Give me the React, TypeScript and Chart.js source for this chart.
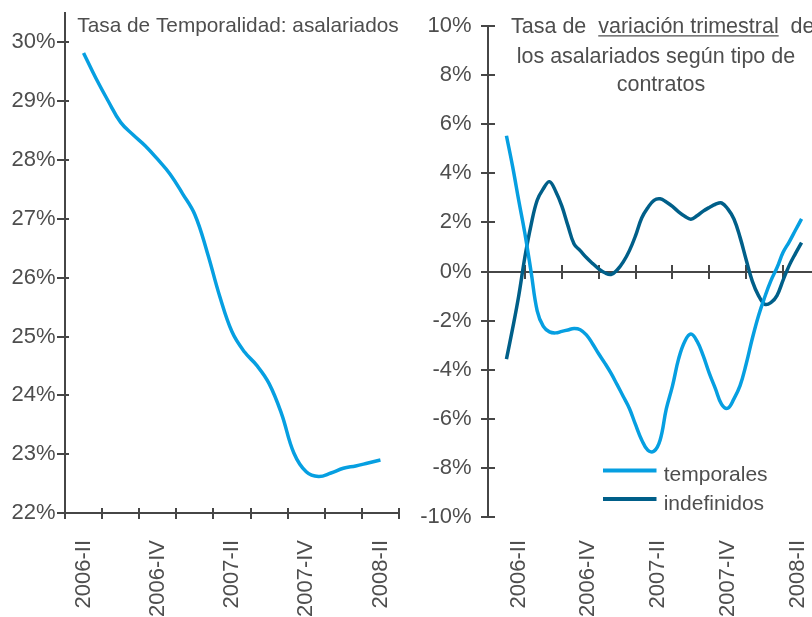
import { useEffect, useRef } from 'react';
import { Chart, registerables } from 'chart.js';

Chart.register(...registerables);

const FONT = "'Liberation Sans', Arial, Helvetica, sans-serif";
Chart.defaults.font.family = FONT;

const AXIS = '#464646';
const TEXT = '#4e4e4e';
const LIGHT = '#069fe1';
const DARK = '#005f89';

// ---------- data ----------
const quarters = ['2006-II', '2006-III', '2006-IV', '2007-I', '2007-II', '2007-III', '2007-IV', '2008-I', '2008-II'];
const labelledQuarters = [0, 2, 4, 6, 8];

const leftTitle = 'Tasa de Temporalidad: asalariados';
const rightTitleLines = ['Tasa de  variación trimestral  de', 'los asalariados según tipo de', 'contratos'];
const rightTitleUnderlined = 'variación trimestral';

// Tasa de temporalidad (%), monthly steps from 2006-II to 2008-II
const temporalidad = [
  29.82, 29.39, 29.0, 28.64, 28.43, 28.24, 28.01, 27.76, 27.43, 27.07, 26.43, 25.69, 25.08,
  24.74, 24.51, 24.2, 23.69, 23.02, 22.7, 22.62, 22.68, 22.76, 22.8, 22.85, 22.9,
];

// Variación trimestral (%), half-month steps from 2006-II to 2008-II
const temporales = [
  5.53, 4.28, 2.89, 1.55, 0.0, -1.6, -2.24, -2.46, -2.5, -2.44, -2.38, -2.32, -2.37, -2.58, -2.94,
  -3.35, -3.73, -4.14, -4.61, -5.09, -5.58, -6.24, -6.86, -7.28, -7.32, -6.86, -5.6, -4.67, -3.56,
  -2.85, -2.55, -2.84, -3.43, -4.15, -4.78, -5.41, -5.57, -5.19, -4.65, -3.76, -2.72, -1.8, -1.05,
  -0.38, 0.15, 0.78, 1.21, 1.68, 2.14,
];
const indefinidos = [
  -3.57, -2.33, -0.99, 0.59, 1.89, 2.9, 3.37, 3.66, 3.27, 2.67, 1.87, 1.12, 0.85, 0.57, 0.33, 0.11,
  -0.05, -0.12, 0.06, 0.39, 0.85, 1.46, 2.18, 2.6, 2.9, 2.96, 2.83, 2.65, 2.43, 2.25, 2.13, 2.27,
  2.46, 2.61, 2.74, 2.79, 2.55, 2.14, 1.39, 0.47, -0.4, -0.98, -1.33, -1.27, -0.98, -0.35, 0.25,
  0.73, 1.18,
];

// ---------- helpers ----------
function seg(ctx: CanvasRenderingContext2D, x1: number, y1: number, x2: number, y2: number) {
  ctx.beginPath();
  ctx.moveTo(x1, y1);
  ctx.lineTo(x2, y2);
  ctx.stroke();
}

function zeroPad(s: any) {
  s.paddingLeft = 0;
  s.paddingRight = 0;
  s.paddingTop = 0;
  s.paddingBottom = 0;
}

const leftDecor = {
  id: 'leftDecor',
  beforeDatasetsDraw(chart: any) {
    const { ctx, chartArea: a, scales } = chart;
    ctx.save();
    ctx.strokeStyle = AXIS;
    ctx.lineWidth = 2;
    scales.y.ticks.forEach((t: any) => {
      const y = Math.round(scales.y.getPixelForValue(t.value));
      seg(ctx, a.left - 8, y, a.left + 4, y);
    });
    for (let b = 0; b <= quarters.length; b++) {
      const x = Math.round(scales.x.getPixelForValue(b - 0.5));
      seg(ctx, x, a.bottom - 5, x, a.bottom + 6);
    }
    ctx.fillStyle = TEXT;
    ctx.font = `20.8px ${FONT}`;
    ctx.textAlign = 'left';
    ctx.textBaseline = 'alphabetic';
    ctx.fillText(leftTitle, a.left + 12.3, a.top + 18.7);
    ctx.restore();
  },
};

const rightDecor = {
  id: 'rightDecor',
  beforeDatasetsDraw(chart: any) {
    const { ctx, chartArea: a, scales } = chart;
    const y0 = Math.round(scales.y.getPixelForValue(0));
    ctx.save();
    ctx.strokeStyle = AXIS;
    ctx.lineWidth = 2;
    scales.y.ticks.forEach((t: any) => {
      const y = Math.round(scales.y.getPixelForValue(t.value));
      seg(ctx, a.left - 7, y, a.left + 7, y);
    });
    for (let b = 1; b <= quarters.length; b++) {
      const x = Math.round(scales.x.getPixelForValue(b - 0.5));
      seg(ctx, x, y0 - 7, x, y0 + 7);
    }
    // title
    ctx.fillStyle = TEXT;
    ctx.font = `21.5px ${FONT}`;
    ctx.textAlign = 'left';
    ctx.textBaseline = 'alphabetic';
    const tx = [a.left + 23, a.left + 28.7, a.left + 128.7];
    const ty = [a.top + 7.3, a.top + 36.7, a.top + 65];
    rightTitleLines.forEach((l, i) => ctx.fillText(l, tx[i], ty[i]));
    const first = rightTitleLines[0];
    const idx = first.indexOf(rightTitleUnderlined);
    const ux1 = tx[0] + ctx.measureText(first.slice(0, idx)).width;
    const ux2 = ux1 + ctx.measureText(rightTitleUnderlined).width;
    ctx.strokeStyle = TEXT;
    ctx.lineWidth = 1.3;
    seg(ctx, ux1, ty[0] + 2.5, ux2, ty[0] + 2.5);
    // legend
    const ly = scales.y.getPixelForValue(-8) + 2.5;
    ctx.font = `21px ${FONT}`;
    chart.data.datasets.forEach((d: any, i: number) => {
      const y = ly + i * 28.6;
      ctx.strokeStyle = d.borderColor;
      ctx.lineWidth = 4;
      seg(ctx, a.left + 115, y, a.left + 168.5, y);
      ctx.fillStyle = TEXT;
      ctx.fillText(d.label, a.left + 175.7, y + 11);
    });
    ctx.restore();
  },
};

function leftConfig(): any {
  return {
    type: 'line',
    data: {
      datasets: [
        {
          label: leftTitle,
          data: temporalidad.map((v, i) => ({ x: i / 3, y: v })),
          borderColor: LIGHT,
          borderWidth: 3.5,
          pointRadius: 0,
          tension: 0.4,
          fill: false,
        },
      ],
    },
    options: {
      responsive: false,
      animation: false,
      layout: { padding: { left: 0, top: 13, right: 21, bottom: 0 } },
      plugins: { legend: { display: false }, tooltip: { enabled: false }, title: { display: false } },
      scales: {
        x: {
          type: 'linear',
          min: -0.5,
          max: 8.5,
          grid: { display: false, drawTicks: false },
          border: { display: true, color: AXIS, width: 2 },
          afterBuildTicks: (s: any) => {
            s.ticks = labelledQuarters.map((v) => ({ value: v }));
          },
          ticks: {
            autoSkip: false,
            maxRotation: 90,
            minRotation: 90,
            padding: 27,
            color: TEXT,
            font: { size: 22 },
            callback: (v: number) => quarters[v] ?? '',
          },
          afterFit: (s: any) => {
            s.height = 104;
            zeroPad(s);
          },
        },
        y: {
          type: 'linear',
          min: 22,
          max: 30.5,
          grid: { display: false, drawTicks: false },
          border: { display: true, color: AXIS, width: 2 },
          ticks: {
            stepSize: 1,
            includeBounds: false,
            padding: 9.5,
            color: TEXT,
            font: { size: 22 },
            callback: (v: number) => `${v}%`,
          },
          afterFit: (s: any) => {
            s.width = 65;
            zeroPad(s);
          },
        },
      },
    },
    plugins: [leftDecor],
  };
}

function rightConfig(): any {
  return {
    type: 'line',
    data: {
      datasets: [
        {
          label: 'temporales',
          data: temporales.map((v, i) => ({ x: i / 6, y: v })),
          borderColor: LIGHT,
          borderWidth: 3.5,
          pointRadius: 0,
          tension: 0.4,
          fill: false,
        },
        {
          label: 'indefinidos',
          data: indefinidos.map((v, i) => ({ x: i / 6, y: v })),
          borderColor: DARK,
          borderWidth: 3.5,
          pointRadius: 0,
          tension: 0.4,
          fill: false,
        },
      ],
    },
    options: {
      responsive: false,
      animation: false,
      layout: { padding: { left: 0, top: 26, right: 20, bottom: 0 } },
      plugins: { legend: { display: false }, tooltip: { enabled: false }, title: { display: false } },
      scales: {
        x: { type: 'linear', display: false, min: -0.5, max: 8.5 },
        xl: {
          type: 'linear',
          position: 'bottom',
          min: -0.873,
          max: 8.629,
          grid: { display: false, drawTicks: false },
          border: { display: false },
          afterBuildTicks: (s: any) => {
            s.ticks = labelledQuarters.map((v) => ({ value: v }));
          },
          ticks: {
            autoSkip: false,
            maxRotation: 90,
            minRotation: 90,
            padding: 23,
            color: TEXT,
            font: { size: 22 },
            callback: (v: number) => quarters[v] ?? '',
          },
          afterFit: (s: any) => {
            s.height = 100;
            zeroPad(s);
          },
        },
        y: {
          type: 'linear',
          min: -10,
          max: 10,
          grid: {
            display: true,
            drawOnChartArea: true,
            drawTicks: false,
            lineWidth: 2,
            color: (c: any) => (c.tick && c.tick.value === 0 ? AXIS : 'rgba(0,0,0,0)'),
          },
          border: { display: true, color: AXIS, width: 2 },
          ticks: {
            stepSize: 2,
            padding: 16.5,
            color: TEXT,
            font: { size: 22 },
            callback: (v: number) => `${v}%`,
          },
          afterFit: (s: any) => {
            s.width = 88;
            zeroPad(s);
          },
        },
      },
    },
    plugins: [rightDecor],
  };
}

export default function App() {
  const leftRef = useRef<HTMLCanvasElement>(null);
  const rightRef = useRef<HTMLCanvasElement>(null);

  useEffect(() => {
    const c1 = new Chart(leftRef.current as HTMLCanvasElement, leftConfig());
    const c2 = new Chart(rightRef.current as HTMLCanvasElement, rightConfig());
    return () => {
      c1.destroy();
      c2.destroy();
    };
  }, []);

  return (
    <div
      style={{
        position: 'fixed',
        left: 0,
        top: 0,
        width: 812,
        height: 617,
        overflow: 'hidden',
        background: '#ffffff',
      }}
    >
      <canvas ref={leftRef} width={420} height={617} style={{ position: 'absolute', left: 0, top: 0 }} />
      <canvas ref={rightRef} width={440} height={617} style={{ position: 'absolute', left: 400, top: 0 }} />
    </div>
  );
}
